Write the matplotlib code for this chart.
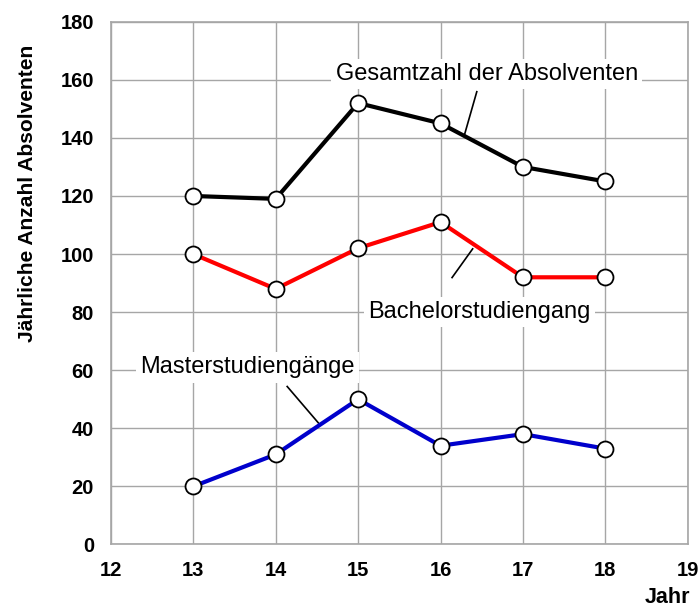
import matplotlib.pyplot as plt

plt.rcParams['font.family'] = ['Liberation Sans', 'DejaVu Sans']

jahre = [13, 14, 15, 16, 17, 18]
gesamt = [120, 119, 152, 145, 130, 125]
bachelor = [100, 88, 102, 111, 92, 92]
master = [20, 31, 50, 34, 38, 33]

fig = plt.figure(figsize=(6.99, 6.10), dpi=100)
ax = fig.add_axes([0.1585, 0.1074, 0.8255, 0.857])

grid_col = "#a6a6a6"
ax.grid(True, color=grid_col, linewidth=1.0, zorder=0)
ax.set_axisbelow(True)
for s in ax.spines.values():
    s.set_color(grid_col)
    s.set_linewidth(1.2)

mk = dict(marker="o", markersize=11.5, markerfacecolor="white",
          markeredgecolor="black", markeredgewidth=1.3, linewidth=3, zorder=4)
ax.plot(jahre, gesamt, color="black", **mk)
ax.plot(jahre, bachelor, color="#ff0000", **mk)
ax.plot(jahre, master, color="#0000cc", **mk)

ax.set_xlim(12, 19)
ax.set_ylim(0, 180)
ax.set_xticks(range(12, 20))
ax.set_yticks(range(0, 181, 20))
ax.tick_params(length=0, labelsize=14.5)
ax.tick_params(axis="x", pad=12)
ax.tick_params(axis="y", pad=12)
for lab in ax.get_xticklabels() + ax.get_yticklabels():
    lab.set_fontweight("bold")

ax.set_ylabel("Jährliche Anzahl Absolventen", fontsize=15.1, fontweight="bold")
ax.yaxis.set_label_coords(-0.128, 0.672)
fig.text(0.988, 0.012, "Jahr", ha="right", va="baseline", fontsize=15.5, fontweight="bold")

box = dict(facecolor="white", edgecolor="none", pad=3)
ax.text(16.56, 162, "Gesamtzahl der Absolventen", ha="center", va="center",
        fontsize=17, bbox=box, zorder=3)
ax.plot([16.44, 16.29], [155.9, 141], color="black", linewidth=1.2, zorder=3)

ax.text(16.47, 80, "Bachelorstudiengang", ha="center", va="center",
        fontsize=17, bbox=box, zorder=3)
ax.plot([16.14, 16.39], [91.9, 101.8], color="black", linewidth=1.2, zorder=3)

ax.text(13.66, 61, "Masterstudiengänge", ha="center", va="center",
        fontsize=17, bbox=box, zorder=3)
ax.plot([14.14, 14.52], [54.4, 41.8], color="black", linewidth=1.2, zorder=3)

fig.savefig("out.png", dpi=100)
